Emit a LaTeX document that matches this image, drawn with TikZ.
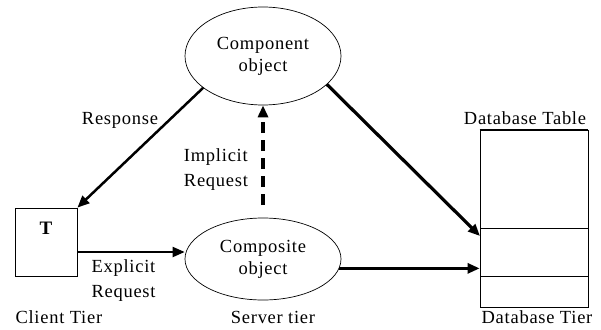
\documentclass[tikz,border=0pt]{standalone}
\usepackage{fontspec}
\setmainfont{Liberation Serif}[LetterSpace=4]
\usetikzlibrary{shapes.geometric,arrows.meta}
\tikzset{
  obj/.style={ellipse,draw,line width=0.7pt,align=center,inner sep=0pt},
  flow/.style={-{Triangle[length=12pt,width=10pt]},line width=2.8pt},
}
\begin{document}
\begin{tikzpicture}[x=1pt,y=-1pt,font=\fontsize{18.5}{22}\selectfont]
                \useasboundingbox (0,0) rectangle (601,329);
                % objects
                \node[obj,minimum width=156pt,minimum height=98pt] (comp) at (263,56) {Component\\object};
                \node[obj,minimum width=156pt,minimum height=82pt] (compo) at (263,259) {Composite\\object};
                \node[draw,line width=0.8pt,minimum width=62pt,minimum height=68pt,inner sep=0pt] (client) at (46,242) {};
                \node[font=\fontsize{19}{22}\bfseries] (tt) at (46,228) {T};
                % database table
                \node[draw,line width=0.8pt,minimum width=108pt,minimum height=177pt,inner sep=0pt] (table) at (534,218.5) {};
                \draw[line width=2pt] (table.north west) -- (table.north east);
                \draw[line width=0.8pt] (480,228) -- (588,228);
                \draw[line width=0.8pt] (480,276) -- (588,276);
                \coordinate (t1) at (480,236);
                \coordinate (imp) at (263,205);
                % connectors
                \draw[flow,line width=2.5pt] (comp.208) -- (client.north east);
                \draw[flow,line width=3.2pt] (comp.336) -- (t1);
                \draw[flow] (compo.-7) -- (compo.-7 -| table.west);
                \draw[flow,line width=2pt] (client.east |- 0,252) -- (compo.west |- 0,252);
                \draw[flow,line width=3.5pt,dash pattern=on 11pt off 7pt] (imp) -- (comp.south);
                % labels
                \node (resp) at (120,120) {Response};
                \node[align=left,font=\fontsize{18.5}{25}\selectfont] (implab) at (216,170) {Implicit\\Request};
                \node[align=left,anchor=west,font=\fontsize{18.5}{25}\selectfont] (explab) at (88,281) {Explicit\\Request};
                \node[anchor=west] (ctier) at (12,317) {Client Tier};
                \node (stier) at (273,317) {Server tier};
                \node (dtier) at (537,317) {Database Tier};
                \node (dtab) at (525,118) {Database Table};
\end{tikzpicture}
\end{document}
